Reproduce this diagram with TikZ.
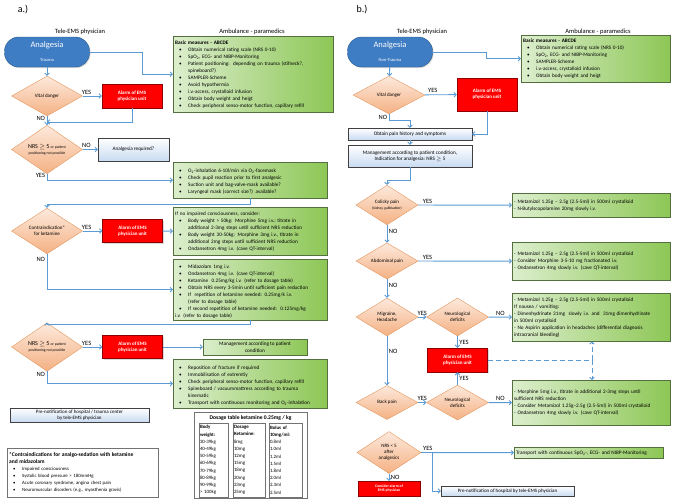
\documentclass[tikz,border=0pt]{standalone}
\usepackage{fontspec}
\setmainfont{Carlito}
\usetikzlibrary{arrows.meta, shapes.geometric, shadows}
\definecolor{flblue}{HTML}{5B9BD5}
\definecolor{termfill}{HTML}{3E7CC4}
\definecolor{termline}{HTML}{2C5A88}
\definecolor{dectop}{HTML}{FDE9DC}
\definecolor{decbot}{HTML}{F4B183}
\definecolor{decline}{HTML}{E2975F}
\definecolor{grlight}{HTML}{DCEECD}
\definecolor{grdark}{HTML}{8DC756}
\definecolor{grline}{HTML}{55703F}
\definecolor{bllight}{HTML}{C9DBF1}
\definecolor{alline}{HTML}{8E0000}
\newcommand{\bitem}{\par\noindent\hangindent=13pt\hangafter=1%
  \hbox to 13pt{\hskip4pt\textbullet\hfil}}
\tikzset{
  shad/.style  = {drop shadow={shadow xshift=1pt, shadow yshift=-1pt, opacity=0.3}},
  term/.style  = {draw=termline, fill=termfill, text=white, align=center,
                  rounded corners=14pt, minimum width=85pt, minimum height=30pt,
                  inner sep=1pt, shad},
  dec/.style   = {diamond, draw=decline, top color=dectop, bottom color=decbot,
                  align=center, inner sep=0pt, minimum width=71pt,
                  minimum height=40pt, font=\fontsize{5}{6}\selectfont},
  alarm/.style = {draw=alline, fill=red, text=white, align=center,
                  minimum width=60pt, minimum height=24pt, inner sep=1pt,
                  font=\fontsize{5}{6.2}\selectfont\bfseries, shad},
  gbox/.style  = {draw=grline, left color=grlight, right color=grdark,
                  anchor=north west, align=left, text width=#1, inner sep=2pt,
                  font=\fontsize{5.2}{7}\selectfont, shad},
  gmid/.style  = {draw=grline, left color=grlight, right color=grdark,
                  align=center, inner sep=1pt,
                  font=\fontsize{5.2}{6.5}\selectfont, shad},
  io/.style    = {draw=black!75, top color=white, bottom color=bllight,
                  align=center, inner sep=1pt,
                  font=\fontsize{5.2}{6.3}\selectfont, shad},
  dcol/.style  = {draw=black!55, align=left, text width=#1, inner sep=1pt,
                  minimum height=74pt, font=\fontsize{4.9}{7.2}\selectfont},
  lab/.style   = {font=\fontsize{6.5}{7}\selectfont, inner sep=1.5pt},
  hdr/.style   = {font=\fontsize{6.5}{8}\selectfont},
  fl/.style    = {-{Straight Barb[length=2.2pt, width=4.5pt]}, draw=flblue,
                  line width=0.9pt},
  dl/.style    = {draw=flblue, line width=0.9pt, dash pattern=on 5pt off 3pt},
}
\begin{document}
\begin{tikzpicture}[x=1pt, y=-1pt]
\useasboundingbox (0,0) rectangle (675,501);

% a.) trauma
\node[font=\fontsize{10}{11}\selectfont] (tagA) at (23,10) {a.)};
\node[hdr] (docA) at (80,32) {Tele-EMS physician};
\node[hdr] (ambA) at (252,32) {Ambulance - paramedics};

\node[term] (analgA) at (47,52) {{\fontsize{8.5}{9}\selectfont Analgesia}\\[2pt]
  {\fontsize{4.5}{5}\selectfont Trauma}};
\node[gbox=156pt, minimum height=76pt] (basicA) at (173,36) {\textbf{Basic measures - ABCDE}
  \bitem Obtain numerical rating scale (NRS 0-10)
  \bitem SpO\textsubscript{2}, ECG- and NIBP-Monitoring
  \bitem Patient positioning:\ \ depending on trauma (stifneck?,\newline spineboard?)
  \bitem SAMPLER-Scheme
  \bitem Avoid hypothermia
  \bitem i.v.-access, crystalloid infusion
  \bitem Obtain body weight and heigt
  \bitem Check peripheral senso-motor function, capillary refill};
\node[dec] (vitalA) at (47,96) {Vital danger};
\node[alarm] (alarmA1) at (132,96) {Alarm of EMS\\physician unit};
\coordinate (jA1) at (47,122);
\node[dec, minimum height=39pt] (nrsA1) at (47,149.5)
  {{\fontsize{6}{6}\selectfont NRS $\geq$ 5} {\fontsize{3.8}{4.5}\selectfont or patient}\\
   {\fontsize{3.8}{4.5}\selectfont positioning not possible}};
\node[io, minimum width=71pt, minimum height=23pt] (reqA) at (133.5,149.5) {Analgesia required?};
\node[gbox=150pt, minimum height=36pt] (o2A) at (173,162) {%
  \bitem O\textsubscript{2}-inhalation 6-10l/min via O\textsubscript{2}-facemask
  \bitem Check pupil reaction prior to first analgesic
  \bitem Suction unit and bag-valve-mask available?
  \bitem Laryngeal mask (correct size?) available?};
\node[dec, minimum height=41pt] (contraA) at (47,231) {Contraindication*\\for ketamine};
\node[alarm, minimum height=23pt] (alarmA2) at (132.5,231) {Alarm of EMS\\physician unit};
\node[gbox=150pt, minimum height=48pt] (morphA) at (173,207) {If no impaired consciousness, consider:
  \bitem Body weight > 50kg: Morphine 5mg i.v.; titrate in\newline additional 2-3mg steps until sufficient NRS reduction
  \bitem Body weight 30-50kg: Morphine 3mg i.v., titrate in\newline additional 2mg steps until sufficient NRS reduction
  \bitem Ondansetron 4mg i.v. (cave QT-interval)};
\node[gbox=150pt, minimum height=61pt] (midaA) at (173,259) {%
  \bitem Midazolam 1mg i.v.
  \bitem Ondansetron 4mg i.v. (cave QT-interval)
  \bitem Ketamine\ \ 0.25mg/kg i.v. (refer to dosage table)
  \bitem Obtain NRS every 3-5min until sufficient pain reduction
  \bitem If\ \ repetition of ketamine needed: 0.25mg/k i.v.\newline (refer to dosage table)
  \bitem If second repetition of ketamine needed:\ \ 0.125mg/kg\newline i.v. (refer to dosage table)};
\node[dec, minimum height=38pt] (nrsA2) at (47,347)
  {{\fontsize{6}{6}\selectfont NRS $\geq$ 5} {\fontsize{3.8}{4.5}\selectfont or patient}\\
   {\fontsize{3.8}{4.5}\selectfont positioning not possible}};
\node[alarm, minimum height=23pt] (alarmA3) at (132.5,347) {Alarm of EMS\\physician unit};
\node[gmid, minimum width=104pt, minimum height=16pt] (mgmtA) at (255,347) {Management according to patient\\condition};
\node[gbox=150pt, minimum height=49pt] (reposA) at (173,359) {%
  \bitem Reposition of fracture if required
  \bitem Immobilisation of extremtiy
  \bitem Check peripheral senso-motor function, capillary refill
  \bitem Spineboard / vacuummattress according to trauma\newline kinematic
  \bitem Transport with continuous monitoring and O\textsubscript{2}-inhalation};
\node[io, minimum width=139pt, minimum height=14pt, font=\fontsize{5}{6}\selectfont] (preA) at (79.5,415)
  {Pre-notification of hospital / trauma center\\by tele-EMS physician};

\node[draw=black!55, fill=white, minimum width=113pt, minimum height=86pt, shad] (doseA) at (250.5,455) {};
\node[font=\fontsize{5.6}{6}\selectfont\bfseries] (doseT) at (250.5,418) {Dosage table ketamine 0.25mg / kg};
\node[dcol=27pt] (colW) at (213.5,460) {\textbf{Body}\\\textbf{weight:}\\30-39kg\\40-49kg\\50-59kg\\60-69kg\\70-79kg\\80-89kg\\90-99kg\\> 100kg};
\node[dcol=30pt] (colD) at (249,460) {\textbf{Dosage}\\\textbf{Ketamine:}\\8mg\\10mg\\12mg\\15mg\\18mg\\20mg\\23mg\\25mg};
\node[dcol=31pt] (colB) at (285.5,460) {\textbf{Bolus of}\\\textbf{10mg/ml:}\\0.8ml\\1.0ml\\1.2ml\\1.5ml\\1.8ml\\2.0ml\\2.3ml\\2.5ml};

\node[draw=black!55, fill=white, anchor=north west, text width=147pt, inner sep=2pt, align=left,
      minimum height=49pt, font=\fontsize{4.8}{7}\selectfont, shad] (ciA) at (7,448)
  {{\fontsize{5.5}{7}\selectfont\bfseries *Contraindications for analgo-sedation with ketamine\newline and midazolam\par}
   \bitem Impaired consciousness
   \bitem Systolic blood pressure > 180mmHg
   \bitem Acute coronary syndrome, angina chest pain
   \bitem Neuromuscular disorders (e.g., myasthenia gravis)};

\draw[fl] (analgA.east) -- ++(53,0) |- (basicA.west);
\draw[fl] (analgA) -- (vitalA);
\draw[fl] (vitalA) -- node[lab, above, pos=0.2] {YES} (alarmA1);
\draw[fl] (alarmA1) |- (jA1);
\draw[fl] (vitalA) -- node[lab, left, pos=0.2] {NO} (nrsA1);
\draw[fl] (nrsA1) -- node[lab, above, pos=0.25] {NO} (reqA);
\draw[fl] (nrsA1) |- node[lab, left, pos=0.1] {YES} (o2A);
\draw[fl] (o2A.south) -- ++(0,6) -| (contraA.north);
\draw[fl] (contraA) -- node[lab, above, pos=0.2] {YES} (alarmA2);
\draw[fl] (alarmA2) -- (morphA);
\draw[fl] (contraA) |- node[lab, left, pos=0.08] {NO} (midaA);
\draw[fl] (midaA.south) -- ++(0,4) -| (nrsA2.north);
\draw[fl] (nrsA2) -- node[lab, above, pos=0.2] {YES} (alarmA3);
\draw[fl] (alarmA3) -- (mgmtA);
\draw[fl] (nrsA2) |- node[lab, left, pos=0.1] {NO} (reposA);

% b.) non-trauma
\node[font=\fontsize{10}{11}\selectfont] (tagB) at (362,10) {b.)};
\node[hdr] (docB) at (422,32) {Tele-EMS physician};
\node[hdr] (ambB) at (598,32) {Ambulance - paramedics};

\node[term] (analgB) at (390,52) {{\fontsize{8.5}{9}\selectfont Analgesia}\\[2pt]
  {\fontsize{4.5}{5}\selectfont Non-Trauma}};
\node[gbox=145pt, minimum height=47pt] (basicB) at (521,35) {\textbf{Basic measures - ABCDE}
  \bitem Obtain numerical rating scale (NRS 0-10)
  \bitem SpO\textsubscript{2}, ECG- and NIBP-Monitoring
  \bitem SAMPLER-Scheme
  \bitem i.v.-access, crystalloid infusion
  \bitem Obtain body weight and heigt};
\node[dec, minimum width=72pt, minimum height=38pt] (vitalB) at (389,95) {Vital danger};
\node[alarm, minimum height=33pt] (alarmB1) at (487,94.5) {Alarm of EMS\\physician unit};
\node[io, minimum width=124pt, minimum height=12pt] (histB) at (410,134) {Obtain pain history and symptoms};
\node[io, minimum width=124pt, minimum height=22pt] (mgmtB) at (410,156)
  {Management according to patient condition,\\Indication for analgesia: NRS $\geq$ 5};
\node[dec, minimum width=62pt, minimum height=34pt] (colB) at (387,205)
  {Colicky pain\\{\fontsize{3.6}{4.5}\selectfont (kidney, gallbladder)}};
\node[gbox=154pt, minimum height=24pt] (colBox) at (512,193)
  {- Metamizol 1.25g -- 2.5g (2.5-5ml) in 500ml crystalloid\\- N-Butylscopolamine 20mg slowly i.v.};
\node[dec, minimum width=62pt, minimum height=34pt] (abdB) at (387,261) {Abdominal pain};
\node[gbox=154pt, minimum height=38pt] (abdBox) at (512,242)
  {- Metamizol 1.25g -- 2.5g (2.5-5ml) in 500ml crystalloid\\- Consider Morphine 3-5-10 mg fractionated i.v.\\- Ondansetron 4mg slowly i.v. (cave QT-interval)};
\node[dec, minimum width=62pt, minimum height=38pt] (migB) at (387,317) {Migraine,\\Headache};
\node[dec, minimum width=62pt, minimum height=38pt] (neuB1) at (457.5,317) {Neurological\\deficits};
\node[gbox=154pt, minimum height=48pt] (migBox) at (512,293)
  {- Metamizol 1.25g -- 2.5g (2.5-5ml) in 500ml crystalloid\\If nausea / vomiting:\\- Dimenhydrinate 31mg\ \ slowly i.v. and\ \ 31mg dimenhydrinate\\in 500ml crystalloid\\- No Aspirin application in headaches (differential diagnosis\\intracranial bleeding)};
\node[alarm] (alarmB2) at (457.5,360) {Alarm of EMS\\physician unit};
\coordinate (dj) at (592,360);
\node[dec, minimum width=62pt, minimum height=34pt] (backB) at (387,402.5) {Back pain};
\node[dec, minimum width=62pt, minimum height=34pt] (neuB2) at (457.5,402.5) {Neurological\\deficits};
\node[gbox=154pt, minimum height=45pt] (backBox) at (512,380)
  {- Morphine 5mg i.v., titrate in additional 2-3mg steps until\\sufficient NRS reduction\\- Consider Metamizol 1.25g--2.5g (2.5-5ml) in 500ml crystalloid\\- Ondansetron 4mg slowly i.v. (cave QT-interval)};
\node[dec, minimum width=64pt, minimum height=42pt] (nrsB) at (389,452.5) {NRS < 5\\after\\analgesics};
\coordinate (jB) at (432,452.5);
\node[gbox=145pt, minimum height=11pt] (transB) at (514,447)
  {Transport with continuous SpO\textsubscript{2}-, ECG- and NIBP-Monitoring};
\node[io, minimum width=133pt, minimum height=10pt, font=\fontsize{5}{6}\selectfont] (preB) at (507.5,491)
  {Pre-notification of hospital by tele-EMS physician};
\node[alarm, minimum width=62pt, minimum height=15pt, font=\fontsize{3.8}{4.5}\selectfont\bfseries] (consB) at (389,488.5)
  {Consider alarm of\\EMS physician};

\draw[fl] (analgB.east) -- ++(54,0) |- (basicB.west);
\draw[fl] (analgB) -- (vitalB);
\draw[fl] (vitalB) -- node[lab, above, pos=0.25] {YES} (alarmB1);
\draw[fl] (vitalB.south) -- node[lab, left] {NO} ++(0,6) -| (histB.north);
\draw[fl] (alarmB1) |- (histB);
\draw[fl] (histB) -- (mgmtB);
\draw[fl] (mgmtB.south) -- ++(0,13) -| (colB.north);
\draw[fl] (colB) -- node[lab, above, pos=0.1] {YES} (colBox);
\draw[fl] (colB) -- node[lab, right, pos=0.35] {NO} (abdB);
\draw[fl] (abdB) -- node[lab, above, pos=0.1] {YES} (abdBox);
\draw[fl] (abdB) -- node[lab, right, pos=0.35] {NO} (migB);
\draw[fl] (migB) -- node[lab, above] {YES} (neuB1);
\draw[fl] (neuB1) -- node[lab, above] {NO} (migBox);
\draw[fl] (neuB1) -- node[lab, right] {YES} (alarmB2);
\draw[dl] (alarmB2) -- (dj);
\draw[fl, dl] (dj) -- (dj |- migBox.south);
\draw[fl, dl] (dj) -- (dj |- backBox.north);
\draw[fl] (migB) -- node[lab, right, pos=0.3] {NO} (backB);
\draw[fl] (backB) -- node[lab, above] {YES} (neuB2);
\draw[fl] (neuB2) -- node[lab, above] {NO} (backBox);
\draw[fl] (neuB2) -- node[lab, right] {YES} (alarmB2);
\draw[fl] (nrsB) -- node[lab, above right, pos=0] {YES} (transB);
\draw[fl] (jB) |- (preB);
\draw[fl] (nrsB) -- node[lab, right] {NO} (consB);
\end{tikzpicture}
\end{document}
